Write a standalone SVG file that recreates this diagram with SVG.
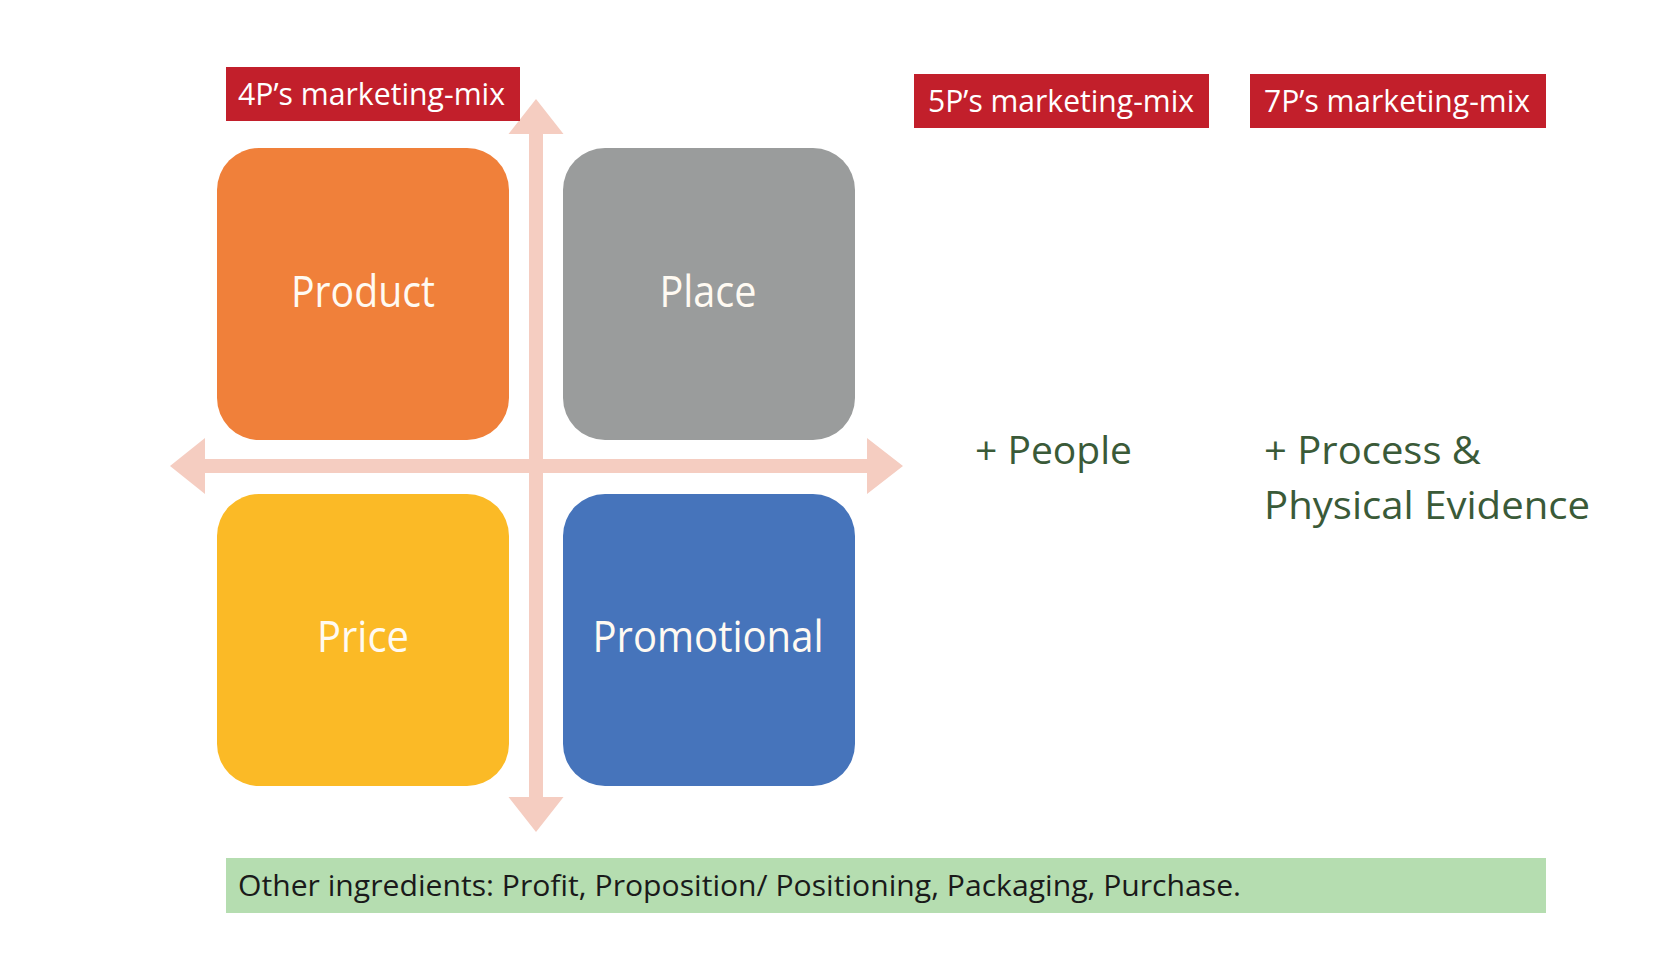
<svg xmlns="http://www.w3.org/2000/svg" width="1680" height="961" viewBox="0 0 1680 961">
<style>
.lbl{fill:#C21F2B}
.lbltxt{font-family:"Open Sans","Liberation Sans",sans-serif;font-size:31px;fill:#FFFFFF}
.quad{font-family:"Open Sans","Liberation Sans",sans-serif;font-size:43px;fill:#FFFAF2;text-anchor:middle}
.plus{font-family:"Open Sans","Liberation Sans",sans-serif;font-size:39px;fill:#3A5A38}
.other{font-family:"Open Sans","Liberation Sans",sans-serif;font-size:29px;fill:#1A1A1A}
.arrow{fill:#F5CDC1}
</style>
<rect width="1680" height="961" fill="#FFFFFF"/>
<g id="connectors">
<polygon class="arrow" points="536,99 563.5,134 543,134 543,797 563.5,797 536,832 508.5,797 529,797 529,134 508.5,134"/>
<polygon class="arrow" points="170,466 205,438 205,459 867,459 867,438 903,466 867,494 867,473 205,473 205,494"/>
</g>
<g id="label-4p">
<rect class="lbl" x="226" y="67" width="294" height="54"/>
<text class="lbltxt" x="238" y="105" textLength="267" lengthAdjust="spacingAndGlyphs">4P’s marketing-mix</text>
</g>
<g id="label-5p">
<rect class="lbl" x="914" y="74" width="295" height="54"/>
<text class="lbltxt" x="928" y="112" textLength="266" lengthAdjust="spacingAndGlyphs">5P’s marketing-mix</text>
</g>
<g id="label-7p">
<rect class="lbl" x="1250" y="74" width="296" height="54"/>
<text class="lbltxt" x="1264" y="112" textLength="266" lengthAdjust="spacingAndGlyphs">7P’s marketing-mix</text>
</g>
<g id="product">
<rect x="217" y="148" width="292" height="292" rx="42" fill="#F0803A"/>
<text class="quad" x="363" y="307" textLength="144" lengthAdjust="spacingAndGlyphs">Product</text>
</g>
<g id="place">
<rect x="563" y="148" width="292" height="292" rx="42" fill="#9A9C9C"/>
<text class="quad" x="708" y="307" textLength="97" lengthAdjust="spacingAndGlyphs">Place</text>
</g>
<g id="price">
<rect x="217" y="494" width="292" height="292" rx="42" fill="#FBBA26"/>
<text class="quad" x="363" y="652" textLength="92" lengthAdjust="spacingAndGlyphs">Price</text>
</g>
<g id="promotional">
<rect x="563" y="494" width="292" height="292" rx="42" fill="#4674BB"/>
<text class="quad" x="708" y="652" textLength="231" lengthAdjust="spacingAndGlyphs">Promotional</text>
</g>
<g id="people">
<text class="plus" x="975" y="464" textLength="157" lengthAdjust="spacingAndGlyphs">+ People</text>
</g>
<g id="process-evidence">
<text class="plus" x="1264" y="464" textLength="217" lengthAdjust="spacingAndGlyphs">+ Process &amp;</text>
<text class="plus" x="1264" y="519" textLength="326" lengthAdjust="spacingAndGlyphs">Physical Evidence</text>
</g>
<g id="other-ingredients">
<rect x="226" y="858" width="1320" height="55" fill="#B5DDB0"/>
<text class="other" x="238" y="896" textLength="1003" lengthAdjust="spacingAndGlyphs">Other ingredients: Profit, Proposition/ Positioning, Packaging, Purchase.</text>
</g>
</svg>
